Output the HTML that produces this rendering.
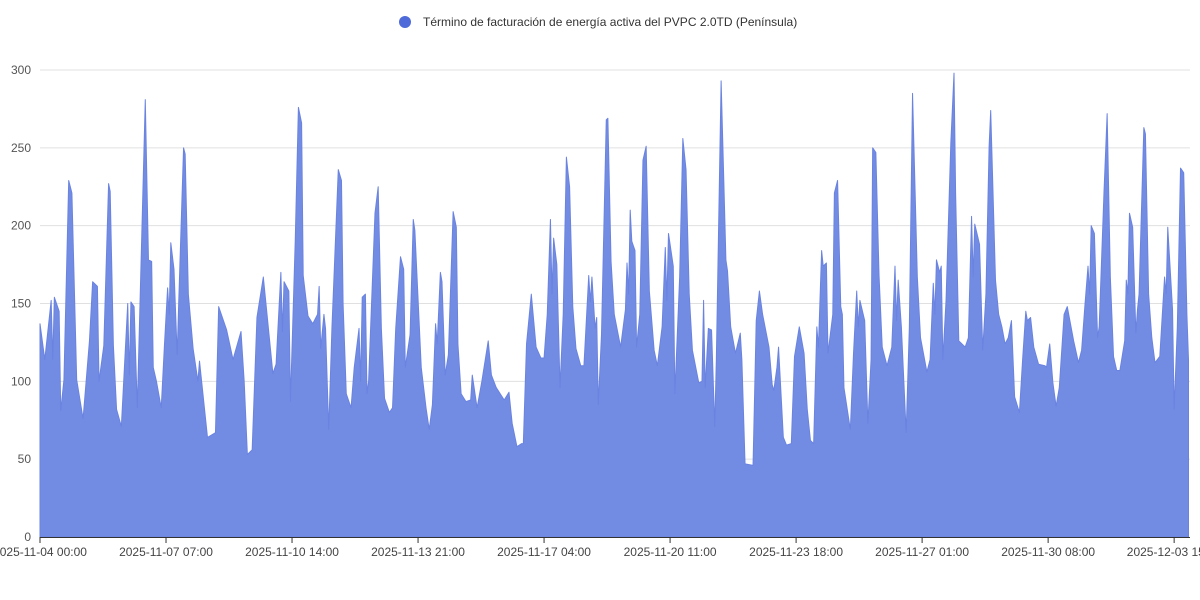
<!DOCTYPE html>
<html><head><meta charset="utf-8"><style>
html,body{margin:0;padding:0;background:#fff;width:1200px;height:600px;overflow:hidden}
svg{display:block;font-family:"Liberation Sans",sans-serif}
</style></head><body>
<svg id="chart" width="1200" height="600">
<g>
<circle cx="405" cy="22" r="6" fill="#4f6bd9"></circle>
<text x="423" y="26" font-size="12" fill="#333">Término de facturación de energía activa del PVPC 2.0TD (Península)</text>
</g>
<g id="grid"></g>
<g id="yticks"></g>
<g id="series"></g>
<g id="xaxis"></g>
</svg>
<script>
const hours=[0,3,7,8,9,12,13,15,18,20,23,27,31,33,36,37,40,43,44,46,48,51,55,56,57,59,61,66,68,70,71,73,76,78,80,81,82,84,86,87,90,91,93,96,99,100,105,110,112,117,121,126,128,130,133,136,140,146,148,151,152,153,156,157,160,162,164,165,168,171,174,175,176,178,179,181,183,187,189,190,192,195,197,200,201,202,204,205,206,210,212,214,216,219,221,223,226,228,229,232,234,235,239,242,244,246,248,249,251,252,254,256,259,261,262,264,267,270,271,274,277,281,283,286,291,294,296,299,302,303,305,308,311,314,316,318,320,321,322,324,326,328,330,332,334,336,339,341,344,345,346,348,349,350,352,355,356,358,360,364,367,368,369,370,371,373,374,376,378,380,382,385,387,390,392,393,394,397,398,401,403,405,407,409,413,415,416,417,419,421,423,424,427,430,431,433,436,439,440,442,447,448,449,451,453,457,459,460,462,463,466,468,471,473,476,479,481,483,485,487,488,490,491,493,494,497,498,500,502,503,504,508,510,512,513,514,517,519,521,522,524,526,528,531,534,536,537,538,540,543,545,547,550,552,556,558,560,561,562,564,565,566,568,571,573,574,576,578,580,582,584,585,586,589,591,593,595,596,599,601,603,605,607,609,611,614,616,618,619,621,623,626,630,631,633,635,637,639,642,644,648,651,653,655,657,658,659,661,663,664,667,669,671,673,675,677,680,681,682,683,685,687,688,689,692,693,695,697,699,702,705,706,707,710,711,713,715,717,719,720];
const prices=[137,114,152,114,154,145,81,101,229,221,101,76,126,164,161,100,123,227,222,123,82,71,150,104,151,148,83,281,178,177,109,100,83,123,160,143,189,172,117,152,250,246,156,121,100,113,64,67,148,133,114,132,100,53,56,141,167,105,111,170,132,164,158,87,190,276,266,168,142,137,143,161,121,143,134,69,134,236,229,150,92,83,109,134,100,154,156,92,100,208,225,134,89,80,83,134,180,172,109,130,204,197,109,83,69,85,137,124,170,164,104,117,209,199,124,92,87,88,104,83,100,126,104,96,88,93,73,58,60,60,124,156,122,115,115,143,204,156,192,175,96,143,244,225,148,121,110,110,168,151,167,134,141,85,130,268,269,177,143,122,146,176,156,210,190,184,122,143,242,251,158,120,110,135,186,152,195,174,92,167,256,236,156,120,99,100,152,96,134,133,71,114,293,178,171,135,118,131,114,47,46,92,139,158,143,122,98,94,109,122,64,59,60,116,135,118,82,62,60,135,122,184,174,176,118,143,221,229,148,143,96,69,118,158,135,152,139,73,114,250,247,168,122,110,122,174,139,165,135,67,135,285,167,128,106,114,163,143,178,170,174,114,152,253,298,221,126,124,122,128,206,167,201,188,120,156,251,274,165,143,135,124,128,139,90,80,114,145,139,141,122,111,110,109,124,99,84,96,143,148,126,112,120,148,174,156,200,195,128,135,221,272,167,116,107,107,126,165,156,208,199,131,146,156,263,259,156,128,112,116,167,156,199,146,82,135,237,234,143,114];
const yTicks=[0,50,100,150,200,250,300];
const xTickHours=[0,79,158,237,316,395,474,553,632,711];
const xTickLabels=["2025-11-04 00:00","2025-11-07 07:00","2025-11-10 14:00","2025-11-13 21:00","2025-11-17 04:00","2025-11-20 11:00","2025-11-23 18:00","2025-11-27 01:00","2025-11-30 08:00","2025-12-03 15:00"];

const NS="http://www.w3.org/2000/svg";
const X0=40,X1=1188.5,HMAX=720,Y0=537,Y300=70;
const xs=h=>X0+(X1-X0)*h/HMAX;
const ys=v=>Y0-(Y0-Y300)*v/300;
function mk(t,a,p){const e=document.createElementNS(NS,t);for(const k in a)e.setAttribute(k,a[k]);p.appendChild(e);return e;}
const grid=document.getElementById('grid'),yt=document.getElementById('yticks');
yTicks.forEach(v=>{
  if(v>0){const l=mk('line',{x1:X0,x2:1190,y1:ys(v),y2:ys(v),stroke:'#e0e0e0','stroke-width':1},grid);
  
  }
  const t=mk('text',{x:31,y:ys(v)+4,'text-anchor':'end','font-size':12,fill:'#555'},yt);
  t.textContent=v;
  
  
});
const ser=document.getElementById('series');
let d='M'+xs(hours[0])+','+Y0;
hours.forEach((h,i)=>{d+=' L'+xs(h).toFixed(2)+','+ys(prices[i]).toFixed(2);});
d+=' L'+xs(hours[hours.length-1])+','+Y0+' Z';
const area=mk('path',{d:d,fill:'#738ce3',stroke:'#6a83e0','stroke-width':1,'stroke-linejoin':'round'},ser);


const xa=document.getElementById('xaxis');
const axl=mk('line',{x1:X0,x2:1190,y1:Y0+0.5,y2:Y0+0.5,stroke:'#333','stroke-width':1},xa);


xTickHours.forEach((h,i)=>{
  const tk=mk('line',{x1:xs(h),x2:xs(h),y1:Y0,y2:Y0+6,stroke:'#333','stroke-width':1},xa);
  
  
  const t=mk('text',{x:xs(h),y:Y0+19,'text-anchor':'middle','font-size':12,fill:'#444'},xa);
  t.textContent=xTickLabels[i];
  
  
});
</script>
</body></html>
